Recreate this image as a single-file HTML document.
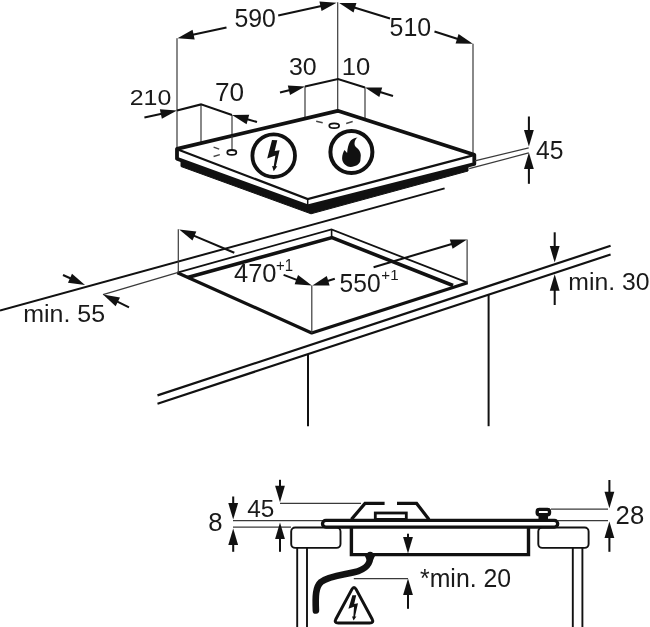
<!DOCTYPE html>
<html><head><meta charset="utf-8"><style>
html,body{margin:0;padding:0;background:#fff;}
svg{display:block;font-family:"Liberation Sans",sans-serif;filter:grayscale(1);}
</style></head><body>
<svg width="650" height="627" viewBox="0 0 650 627">
<rect width="650" height="627" fill="#fff"/>
<line x1="177" y1="38.2" x2="177" y2="148.5" stroke="#3a3a3a" stroke-width="1.2"/>
<line x1="337.7" y1="2.2" x2="337.7" y2="110" stroke="#3a3a3a" stroke-width="1.2"/>
<line x1="473" y1="43.8" x2="473" y2="154" stroke="#3a3a3a" stroke-width="1.2"/>
<line x1="226.5" y1="27.4" x2="190.39" y2="35.36" stroke="#111" stroke-width="2.05"/><polygon points="177.50,38.20 192.56,29.86 194.67,39.43" fill="#111"/>
<line x1="278.2" y1="15.6" x2="323.71" y2="5.55" stroke="#111" stroke-width="2.05"/><polygon points="336.60,2.70 321.55,11.04 319.43,1.47" fill="#111"/>
<line x1="390" y1="18.5" x2="351.82" y2="6.77" stroke="#111" stroke-width="2.05"/><polygon points="339.20,2.90 356.41,3.06 353.53,12.43" fill="#111"/>
<line x1="434.5" y1="31.5" x2="460.23" y2="39.76" stroke="#111" stroke-width="2.05"/><polygon points="472.80,43.80 455.59,43.42 458.59,34.09" fill="#111"/>
<text transform="translate(234.41,26.55) scale(0.9799,1)" font-size="25.35" fill="#1a1a1a">590</text>
<text transform="translate(389.60,35.85) scale(0.9959,1)" font-size="25.07" fill="#1a1a1a">510</text>
<line x1="305" y1="86.6" x2="305" y2="117.5" stroke="#3a3a3a" stroke-width="1.2"/>
<line x1="365" y1="87.4" x2="365" y2="119" stroke="#3a3a3a" stroke-width="1.2"/>
<polyline points="305,86.6 338,79 365,87.4" fill="none" stroke="#111" stroke-width="2.05" />
<line x1="280" y1="92.4" x2="292.14" y2="89.58" stroke="#111" stroke-width="2.05"/><polygon points="305.00,86.60 290.03,95.10 287.82,85.56" fill="#111"/>
<line x1="393" y1="96" x2="377.62" y2="91.28" stroke="#111" stroke-width="2.05"/><polygon points="365.00,87.40 382.21,87.56 379.33,96.93" fill="#111"/>
<text transform="translate(289.00,75.15) scale(1.0181,1)" font-size="24.51" fill="#1a1a1a">30</text>
<text transform="translate(341.75,75.15) scale(1.0469,1)" font-size="24.51" fill="#1a1a1a">10</text>
<line x1="201" y1="104.4" x2="201" y2="142.5" stroke="#3a3a3a" stroke-width="1.2"/>
<line x1="232" y1="115" x2="232" y2="150" stroke="#3a3a3a" stroke-width="1.2"/>
<polyline points="177,110.6 201,104.4 232,115" fill="none" stroke="#111" stroke-width="2.05" />
<line x1="144.4" y1="117.4" x2="164.08" y2="113.30" stroke="#111" stroke-width="2.05"/><polygon points="177.00,110.60 161.85,118.77 159.85,109.17" fill="#111"/>
<line x1="257" y1="122" x2="244.71" y2="118.56" stroke="#111" stroke-width="2.05"/><polygon points="232.00,115.00 249.21,114.73 246.57,124.17" fill="#111"/>
<text transform="translate(129.75,105.28) scale(1.1206,1)" font-size="22.25" fill="#1a1a1a">210</text>
<text transform="translate(214.89,101.05) scale(1.0441,1)" font-size="25.07" fill="#1a1a1a">70</text>
<polygon points="181,160.5 307.7,206.4 468,164.5 468,171 311,213.8 181,166.5" fill="#111" stroke="#111" stroke-width="1" />
<polygon points="177,148.8 337.7,110.8 474.3,154.8 474.3,164 307.7,206.4 177,158.8" fill="#fff" stroke="#111" stroke-width="3.8" stroke-linejoin="round"/>
<polyline points="178.5,149.8 307.7,199.0 473,155.4" fill="none" stroke="#111" stroke-width="2.2" />
<line x1="307.7" y1="199.0" x2="307.7" y2="206" stroke="#111" stroke-width="1.5"/>
<circle cx="273.7" cy="155.7" r="21.3" fill="none" stroke="#111" stroke-width="3.8"/>
<polygon points="272.0,140.0 277.3,140.2 274.7,151.0 279.6,150.2 275.9,166.3 277.3,166.3 273.7,171.3 272.1,166.1 273.7,166.3 275.4,155.6 267.2,158.6" fill="#111"/>
<circle cx="351.4" cy="152.05" r="21" fill="none" stroke="#111" stroke-width="4"/>
<path d="M350.7,166.9 C346,166.9 342.1,163 342.1,158.3 C342.1,155 343.5,152 344.5,150.1 L347.1,153.0 C347.5,148 348.5,144.5 349.8,142.0 C351,139.5 354,137.5 357.6,137.4 C355.8,138.5 354.5,140.5 354.5,143.9 C354.5,146 356.5,147.5 357.9,148.7 C359.8,150.5 360.8,153 360.8,155.4 L360.3,161.1 C359.5,164.5 355.5,166.9 350.7,166.9 Z" fill="#111"/>
<line x1="232" y1="136" x2="232" y2="150.2" stroke="#3a3a3a" stroke-width="1.2"/>
<ellipse cx="231.8" cy="152.4" rx="4.5" ry="2.4" fill="none" stroke="#111" stroke-width="1.8"/>
<ellipse cx="334.2" cy="125.8" rx="4.9" ry="2.4" fill="none" stroke="#111" stroke-width="1.8"/>
<line x1="213.6" y1="147.2" x2="219.2" y2="149.1" stroke="#444" stroke-width="1.4"/>
<line x1="213.6" y1="156.5" x2="219.8" y2="154.6" stroke="#444" stroke-width="1.4"/>
<line x1="316.2" y1="121.2" x2="322.7" y2="122.7" stroke="#444" stroke-width="1.4"/>
<line x1="346.2" y1="123.5" x2="352.7" y2="121.5" stroke="#444" stroke-width="1.4"/>
<line x1="474.8" y1="160.8" x2="528.7" y2="147.8" stroke="#3a3a3a" stroke-width="1.2"/>
<line x1="469.2" y1="168.7" x2="528.7" y2="152.8" stroke="#3a3a3a" stroke-width="1.2"/>
<line x1="528.9" y1="116.5" x2="528.90" y2="133.30" stroke="#111" stroke-width="2.05"/><polygon points="528.90,146.50 524.00,130.00 533.80,130.00" fill="#111"/>
<line x1="528.9" y1="183.8" x2="528.90" y2="165.70" stroke="#111" stroke-width="2.05"/><polygon points="528.90,152.50 533.80,169.00 524.00,169.00" fill="#111"/>
<text transform="translate(536.11,159.25) scale(0.9755,1)" font-size="25.29" fill="#1a1a1a">45</text>
<line x1="0" y1="310.5" x2="444.6" y2="188.4" stroke="#111" stroke-width="2.0"/>
<line x1="157.5" y1="395.4" x2="610.6" y2="245.8" stroke="#111" stroke-width="2.2"/>
<line x1="157.5" y1="403.7" x2="610.6" y2="254.5" stroke="#111" stroke-width="2.2"/>
<line x1="308" y1="355" x2="308" y2="426.2" stroke="#111" stroke-width="2.0"/>
<line x1="488.6" y1="295" x2="488.6" y2="426.2" stroke="#111" stroke-width="2.0"/>
<polyline points="177.4,272.7 331.5,229.4 467.6,282.7" fill="none" stroke="#111" stroke-width="1.8" />
<line x1="331.6" y1="229.4" x2="331.6" y2="237.5" stroke="#111" stroke-width="1.6"/>
<polyline points="187.5,277.6 332,237.6 453,285.5" fill="none" stroke="#111" stroke-width="3.6" />
<polyline points="177.4,272.7 311.7,333 467.6,282.7" fill="none" stroke="#111" stroke-width="3.2" stroke-linejoin="round"/>
<line x1="178.3" y1="229.2" x2="178.3" y2="272.7" stroke="#3a3a3a" stroke-width="1.2"/>
<line x1="467.1" y1="239.4" x2="467.1" y2="282.7" stroke="#3a3a3a" stroke-width="1.2"/>
<line x1="311.8" y1="285.5" x2="311.8" y2="333" stroke="#3a3a3a" stroke-width="1.2"/>
<line x1="234.3" y1="252.8" x2="191.36" y2="234.64" stroke="#111" stroke-width="2.05"/><polygon points="179.20,229.50 196.31,231.41 192.49,240.44" fill="#111"/>
<line x1="373.6" y1="267.2" x2="454.35" y2="243.17" stroke="#111" stroke-width="2.05"/><polygon points="467.00,239.40 452.58,248.80 449.79,239.41" fill="#111"/>
<line x1="283.6" y1="274.9" x2="299.44" y2="280.86" stroke="#111" stroke-width="2.05"/><polygon points="311.80,285.50 294.63,284.28 298.08,275.11" fill="#111"/>
<line x1="334.8" y1="278.7" x2="325.03" y2="281.67" stroke="#111" stroke-width="2.05"/><polygon points="312.40,285.50 326.77,276.02 329.61,285.40" fill="#111"/>
<text transform="translate(233.99,282.05) scale(1.0182,1)" font-size="25.07" fill="#1a1a1a">470</text>
<text transform="translate(275.95,270.50) scale(0.9159,1)" font-size="16.38" fill="#1a1a1a">+1</text>
<text transform="translate(339.62,291.65) scale(0.9864,1)" font-size="24.93" fill="#1a1a1a">550</text>
<text transform="translate(381.35,279.50) scale(1.0313,1)" font-size="14.64" fill="#1a1a1a">+1</text>
<line x1="103" y1="294.6" x2="177.4" y2="272.7" stroke="#3a3a3a" stroke-width="1.2"/>
<line x1="63" y1="275" x2="72.98" y2="279.54" stroke="#111" stroke-width="2.05"/><polygon points="85.00,285.00 67.95,282.63 72.01,273.71" fill="#111"/>
<line x1="129" y1="307.4" x2="114.84" y2="300.43" stroke="#111" stroke-width="2.05"/><polygon points="103.00,294.60 119.97,297.49 115.64,306.28" fill="#111"/>
<text transform="translate(23.25,322.45) scale(1.0158,1)" font-size="24.59" fill="#1a1a1a">min. 55</text>
<line x1="554.7" y1="232.3" x2="554.70" y2="249.40" stroke="#111" stroke-width="2.05"/><polygon points="554.70,262.60 549.80,246.10 559.60,246.10" fill="#111"/>
<line x1="554.7" y1="305" x2="554.70" y2="287.40" stroke="#111" stroke-width="2.05"/><polygon points="554.70,274.20 559.60,290.70 549.80,290.70" fill="#111"/>
<text transform="translate(568.26,289.56) scale(1.0425,1)" font-size="23.78" fill="#1a1a1a">min. 30</text>
<line x1="233.2" y1="496.5" x2="233.20" y2="506.40" stroke="#111" stroke-width="2.05"/><polygon points="233.20,519.60 228.30,503.10 238.10,503.10" fill="#111"/>
<line x1="233.2" y1="551.8" x2="233.20" y2="541.70" stroke="#111" stroke-width="2.05"/><polygon points="233.20,528.50 238.10,545.00 228.30,545.00" fill="#111"/>
<line x1="233" y1="520.6" x2="323" y2="520.6" stroke="#3a3a3a" stroke-width="1.2"/>
<line x1="233" y1="527.2" x2="291" y2="527.2" stroke="#3a3a3a" stroke-width="1.2"/>
<line x1="280" y1="479.8" x2="280.00" y2="489.00" stroke="#111" stroke-width="2.05"/><polygon points="280.00,502.20 275.10,485.70 284.90,485.70" fill="#111"/>
<line x1="280" y1="551.8" x2="280.00" y2="535.70" stroke="#111" stroke-width="2.05"/><polygon points="280.00,522.50 284.90,539.00 275.10,539.00" fill="#111"/>
<line x1="280" y1="503.4" x2="361" y2="503.4" stroke="#3a3a3a" stroke-width="1.2"/>
<text transform="translate(208.37,531.25) scale(1.0327,1)" font-size="24.93" fill="#1a1a1a">8</text>
<text transform="translate(247.31,516.95) scale(0.9865,1)" font-size="24.71" fill="#1a1a1a">45</text>
<rect x="291.2" y="527.5" width="49.3" height="20.4" rx="4" fill="#fff" stroke="#111" stroke-width="1.9"/>
<rect x="538.3" y="527.5" width="50.3" height="20.4" rx="4" fill="#fff" stroke="#111" stroke-width="1.9"/>
<line x1="297.2" y1="547.7" x2="297.2" y2="627" stroke="#111" stroke-width="1.9"/>
<line x1="307" y1="547.7" x2="307" y2="627" stroke="#111" stroke-width="1.9"/>
<line x1="572.8" y1="548" x2="572.8" y2="627" stroke="#111" stroke-width="1.9"/>
<line x1="582.4" y1="548" x2="582.4" y2="627" stroke="#111" stroke-width="1.9"/>
<path d="M351.4,527 V554.6 H528.5 V527" fill="none" stroke="#111" stroke-width="3.4"/>
<rect x="322.5" y="520.3" width="235.2" height="6.8" rx="3.4" fill="#fff" stroke="#111" stroke-width="3.3"/>
<polyline points="351.4,519.4 365,503.4 384.6,503.4" fill="none" stroke="#111" stroke-width="3.2"/>
<polyline points="397,503.4 416.6,503.4 429,519.4" fill="none" stroke="#111" stroke-width="3.2"/>
<rect x="375.3" y="513" width="31" height="6.4" fill="#fff" stroke="#111" stroke-width="2.8"/>
<rect x="537.2" y="509.4" width="12.3" height="5.3" rx="2" fill="#fff" stroke="#111" stroke-width="3.4"/>
<rect x="538.5" y="515" width="9.5" height="4.5" fill="#111"/>
<line x1="551" y1="509.2" x2="608" y2="509.2" stroke="#3a3a3a" stroke-width="1.2"/>
<line x1="558" y1="520.6" x2="608" y2="520.6" stroke="#3a3a3a" stroke-width="1.2"/>
<line x1="609.4" y1="480" x2="609.40" y2="495.00" stroke="#111" stroke-width="2.05"/><polygon points="609.40,508.20 604.50,491.70 614.30,491.70" fill="#111"/>
<line x1="609.4" y1="551.8" x2="609.40" y2="534.70" stroke="#111" stroke-width="2.05"/><polygon points="609.40,521.50 614.30,538.00 604.50,538.00" fill="#111"/>
<text transform="translate(615.62,523.95) scale(1.0132,1)" font-size="25.35" fill="#1a1a1a">28</text>
<line x1="408" y1="533.7" x2="408.00" y2="540.20" stroke="#111" stroke-width="2.05"/><polygon points="408.00,553.40 403.10,536.90 412.90,536.90" fill="#111"/>
<line x1="408" y1="608.8" x2="408.00" y2="591.70" stroke="#111" stroke-width="2.05"/><polygon points="408.00,578.50 412.90,595.00 403.10,595.00" fill="#111"/>
<line x1="353.8" y1="578.7" x2="408" y2="578.7" stroke="#3a3a3a" stroke-width="1.2"/>
<text transform="translate(420.00,586.85) scale(0.9886,1)" font-size="25.14" fill="#1a1a1a">*min. 20</text>
<path d="M370.2,555 C370.8,566 364,570 354,572.3 C342,575 328,576.5 321,582 C315.5,587 315.3,596 315.9,610.5" fill="none" stroke="#111" stroke-width="6.6" stroke-linecap="round"/><path d="M364,554 L376,554 C374,558 372,562 369,565 Z" fill="#111"/>
<path d="M356.13,589.36 Q354.00,585.40 351.87,589.36 L335.93,618.94 Q333.80,622.90 338.30,622.90 L369.70,622.90 Q374.20,622.90 372.07,618.94 Z" fill="none" stroke="#111" stroke-width="3"/>
<polygon points="352.4,595.2 356.2,595.2 354.2,604 358,603.2 355,616.4 356.4,616.4 353.6,620.4 352,616.4 353.4,616.4 354,606.8 348.4,608.8" fill="#111"/>
</svg>
</body></html>
